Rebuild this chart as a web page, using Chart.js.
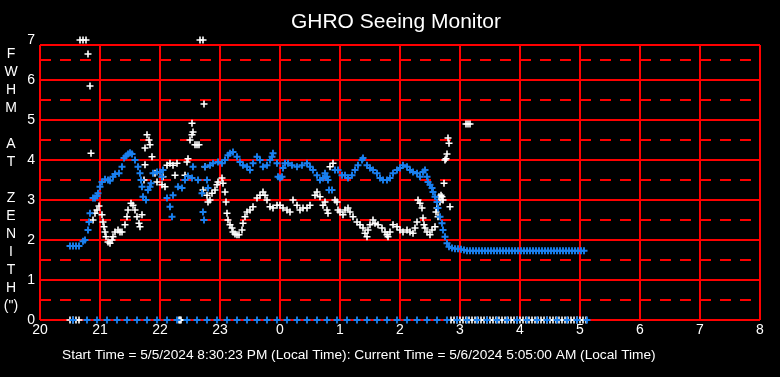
<!DOCTYPE html>
<html><head><meta charset="utf-8">
<script src="https://cdn.jsdelivr.net/npm/chart.js@4/dist/chart.umd.min.js"></script>
<style>html,body{margin:0;padding:0;background:#000;overflow:hidden}#wrap{width:780px;height:377px}</style>
</head><body><div id="wrap"><canvas id="c" width="780" height="377"></canvas></div>
<script>
// ---- text ----
const titleText = "GHRO Seeing Monitor";
const footerText = "Start Time = 5/5/2024 8:30:23 PM (Local Time): Current Time = 5/6/2024 5:05:00 AM (Local Time)";
const yTitleLetters = ["F","W","H","M","","A","T","","Z","E","N","I","T","H","(\")"];
const xTickLabels = ["20","21","22","23","0","1","2","3","4","5","6","7","8"];
const yTickLabels = ["0","1","2","3","4","5","6","7"];
// x = minutes after 20:00 local time, y = FWHM (arcsec)

// ---- white series ----
const whiteMin = [30,33,36,39,40,43,46,48,50,51,53,55,57,59,62,63,64,65,66,68,70,72,73,75,78,80,82,85,87,88,91,93,95,97,99,100,102,104,105,105,107,109,110,112,115,117,122,123,125,127,130,133,135,137,139,140,141,145,147,148,150,152,152,153,155,157,159,160,163,163,164,165,167,168,170,172,175,177,178,182,183,185,186,187,188,190,192,193,195,197,199,202,203,205,207,210,213,217,220,223,225,227,230,233,237,240,243,247,250,253,257,260,263,267,270,275,277,280,283,285,287,288,290,293,295,297,298,300,303,305,308,310,313,317,320,323,325,327,328,330,333,335,338,342,345,347,348,350,353,357,360,363,367,370,373,375,377,378,380,382,383,384,385,387,390,392,395,396,397,398,399,400,401,402,403,404,405,406,407,408,409,410,426,428,430];
const whiteVal = [0,0,0,0,7,7,7,6.65,5.85,4.17,2.5,2.67,2.75,2.85,2.63,2.45,2.33,2.2,2.08,1.95,1.92,2.0,2.08,2.2,2.25,2.2,2.2,2.38,2.58,2.75,2.92,2.87,2.75,2.58,2.42,2.33,2.63,3.5,3.88,4.3,4.63,4.5,4.38,4.08,3.67,3.45,3.38,3.58,3.33,3.87,3.92,3.87,3.62,3.92,0,0,0,3.62,3.95,4.03,4.5,4.63,4.92,4.7,4.38,4.38,4.38,7,7,3.25,5.4,3.83,3.12,2.95,3.0,3.17,3.25,3.38,3.45,3.55,3.42,3.2,2.95,2.67,2.5,2.38,2.3,2.2,2.15,2.13,2.13,2.25,2.42,2.58,2.7,2.75,2.83,3.05,3.12,3.2,3.12,3.0,2.83,2.8,2.87,2.87,2.8,2.75,2.7,3.0,2.87,2.75,2.8,2.8,2.87,3.12,3.2,3.08,2.87,2.95,2.75,2.67,3.83,3.92,3.0,2.95,2.75,2.7,2.63,2.75,2.8,2.7,2.58,2.45,2.38,2.3,2.17,2.08,2.25,2.38,2.5,2.42,2.38,2.3,2.2,2.13,2.08,2.2,2.38,2.33,2.25,2.2,2.25,2.2,2.17,2.3,2.45,3.0,2.92,2.8,2.55,2.38,2.3,2.2,2.13,2.25,2.33,2.7,2.8,2.58,3.08,2.95,3.12,3.08,3.0,3.42,4.0,4.03,4.15,4.55,4.42,2.83,4.9,4.9,4.9];
const whiteZeroMin = [411,414,417,420,423,426,429,432,435,438,441,444,447,450,453,456,459,462,465,468,471,474,477,480,483,486,489,492,495,498,501,504,507,510,513,516,519,522,525,528,531,534,537,540,543,546];
const whiteZeroVal = [0,0,0,0,0,0,0,0,0,0,0,0,0,0,0,0,0,0,0,0,0,0,0,0,0,0,0,0,0,0,0,0,0,0,0,0,0,0,0,0,0,0,0,0,0,0];

// ---- blue series ----
const blueMin = [30,33,36,39,43,45,48,49,50,53,55,57,58,60,62,65,68,70,73,75,79,82,84,86,88,90,92,95,98,100,101,102,103,106,108,110,111,113,117,120,122,123,127,130,132,133,138,142,145,148,152,153,158,162,163,164,165,167,168,170,173,178,182,185,188,190,193,197,200,203,207,210,213,217,220,223,227,230,232,233,237,238,240,242,243,245,248,252,257,262,267,270,273,277,280,283,285,287,288,289,292,295,298,302,305,308,312,315,318,322,323,327,330,333,337,340,343,347,350,353,357,360,363,367,370,373,377,380,383,385,387,388,390,392,393,395,397,398,400,402,403,405,407,409,412,415,418,421,424,427,430,433,436,439,442,445,448,451,454,457,460,463,466,469,472,475,478,481,484,487,490,493,496,499,502,505,508,511,514,517,520,523,526,529,532,535,538,541,544];
const blueVal = [1.85,1.85,1.85,1.85,1.97,2.0,2.25,2.45,2.67,3.05,3.05,3.1,3.17,3.33,3.45,3.52,3.5,3.48,3.58,3.65,3.67,3.83,4.05,4.1,4.15,4.18,4.15,4.0,3.83,3.67,3.5,3.33,3.08,3.0,3.25,3.33,3.42,3.67,3.7,3.7,3.58,3.75,3.05,2.83,2.58,3.12,3.33,3.3,3.5,3.6,3.55,3.83,3.5,3.17,2.7,2.5,3.83,3.5,3.3,3.87,3.92,3.95,3.92,4.0,4.12,4.17,4.2,4.08,3.95,3.87,3.83,3.75,3.92,4.08,4.0,3.83,3.87,4.0,4.08,4.17,3.92,3.58,3.55,3.58,3.8,3.92,3.92,3.87,3.83,3.87,3.92,3.83,3.75,3.62,3.5,3.55,3.67,3.58,3.5,3.25,3.25,3.75,3.75,3.62,3.62,3.55,3.62,3.75,3.87,4.0,4.05,3.87,3.8,3.75,3.67,3.55,3.5,3.5,3.55,3.67,3.75,3.8,3.87,3.83,3.75,3.7,3.67,3.58,3.7,3.75,3.58,3.45,3.38,3.3,3.2,3.08,2.95,2.8,2.58,2.42,2.25,2.08,1.92,1.83,1.8,1.78,1.78,1.77,1.75,1.73,1.73,1.73,1.73,1.73,1.73,1.73,1.73,1.73,1.73,1.73,1.73,1.73,1.73,1.73,1.73,1.73,1.73,1.73,1.73,1.73,1.73,1.73,1.73,1.73,1.73,1.73,1.73,1.73,1.73,1.73,1.73,1.73,1.73,1.73,1.73,1.73,1.73,1.73,1.73];
const blueZeroMin = [33,47,57,67,77,87,97,107,117,127,137,147,157,167,177,187,197,207,217,227,237,247,257,267,277,287,297,307,317,327,337,347,357,367,377,387,397,407,417,427,437,447,457,467,477,487,497,507,517,527,537,547];
const blueZeroVal = [0,0,0,0,0,0,0,0,0,0,0,0,0,0,0,0,0,0,0,0,0,0,0,0,0,0,0,0,0,0,0,0,0,0,0,0,0,0,0,0,0,0,0,0,0,0,0,0,0,0,0,0];

const toPts = (xs, ys) => xs.map((x, i) => ({x: x, y: ys[i]}));
const FONT = "'Liberation Sans', Arial, sans-serif";
const WHITE = '#ffffff', BLUE = '#1a80f0', RED = '#ff0000';

const gridPlugin = {
  id: 'gridPlugin',
  beforeDatasetsDraw(chart) {
    const {ctx, scales: {x, y}} = chart;
    const left = x.getPixelForValue(0), right = x.getPixelForValue(720);
    const top = y.getPixelForValue(6.875), bottom = y.getPixelForValue(0);
    ctx.save();
    ctx.strokeStyle = RED; ctx.lineWidth = 2;
    ctx.setLineDash([11, 9]);
    for (let v = 0.5; v < 7; v += 1) {
      const py = Math.round(y.getPixelForValue(v));
      ctx.beginPath(); ctx.moveTo(left, py); ctx.lineTo(right, py); ctx.stroke();
    }
    ctx.setLineDash([]);
    for (let v = 0; v <= 6; v++) {
      const py = Math.round(y.getPixelForValue(v));
      ctx.beginPath(); ctx.moveTo(left, py); ctx.lineTo(right, py); ctx.stroke();
    }
    ctx.beginPath(); ctx.moveTo(left, top); ctx.lineTo(right, top); ctx.stroke();
    for (let m = 0; m <= 720; m += 60) {
      const px = Math.round(x.getPixelForValue(m));
      ctx.beginPath(); ctx.moveTo(px, top); ctx.lineTo(px, bottom); ctx.stroke();
    }
    ctx.restore();
  },
  afterDraw(chart) {
    const ctx = chart.ctx;
    ctx.save();
    ctx.fillStyle = WHITE;
    ctx.textAlign = 'center'; ctx.textBaseline = 'alphabetic';
    ctx.font = "21px " + FONT;
    ctx.fillText(titleText, 396, 28);
    ctx.font = "14px " + FONT;
    yTitleLetters.forEach((l, i) => { if (l) ctx.fillText(l, 11, 58 + i * 18); });
    ctx.textAlign = 'left';
    ctx.font = "13.7px " + FONT;
    ctx.fillText(footerText, 62, 359);
    ctx.restore();
  }
};

const ds = (label, pts, color, order, bw) => ({
  label, data: pts, showLine: false, pointStyle: 'cross', pointRadius: 3.5,
  pointHoverRadius: 3.5, borderColor: color, backgroundColor: color,
  pointBorderWidth: bw, clip: false, order
});

new Chart(document.getElementById('c'), {
  type: 'scatter',
  data: { datasets: [
    ds('Blue zero', toPts(blueZeroMin, blueZeroVal), BLUE, 0, 1.8),
    ds('Blue', toPts(blueMin, blueVal), BLUE, 1, 1.9),
    ds('White zero', toPts(whiteZeroMin, whiteZeroVal), WHITE, 2, 1.6),
    ds('White', toPts(whiteMin, whiteVal), WHITE, 3, 1.6)
  ]},
  options: {
    responsive: false, animation: false, devicePixelRatio: 1,
    layout: { padding: { top: 40, right: 20, left: 0, bottom: 0 } },
    plugins: { legend: { display: false }, tooltip: { enabled: false } },
    events: [],
    scales: {
      x: { type: 'linear', min: 0, max: 720,
        afterFit: s => { s.height = 57; },
        afterBuildTicks: s => { s.ticks = xTickLabels.map((_, i) => ({ value: i * 60 })); },
        ticks: { color: WHITE, font: { family: FONT, size: 14 }, padding: 2, maxRotation: 0, autoSkip: false,
          callback: (v, i) => xTickLabels[i] },
        grid: { display: false, drawTicks: false }, border: { display: false } },
      y: { type: 'linear', min: 0, max: 7,
        afterFit: s => { s.width = 40; },
        afterBuildTicks: s => { s.ticks = yTickLabels.map((_, i) => ({ value: i })); },
        ticks: { color: WHITE, font: { family: FONT, size: 14 }, padding: 5,
          callback: (v, i) => yTickLabels[i] },
        grid: { display: false, drawTicks: false }, border: { display: false } }
    }
  },
  plugins: [gridPlugin]
});
</script></body></html>
